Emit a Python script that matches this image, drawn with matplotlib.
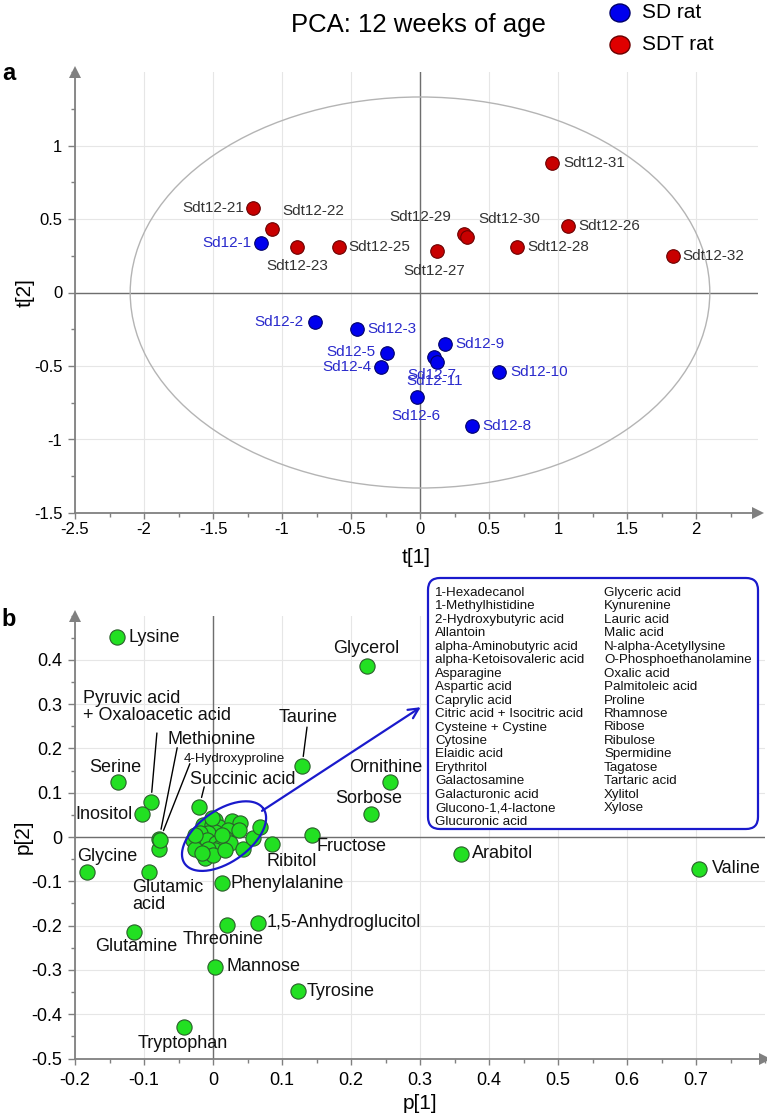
import numpy as np
import matplotlib
matplotlib.use("Agg")
import matplotlib.pyplot as plt
from matplotlib.patches import Ellipse, FancyBboxPatch
from matplotlib.transforms import IdentityTransform
from matplotlib.ticker import FixedLocator, MultipleLocator, FuncFormatter

plt.rcParams['font.family'] = ['Liberation Sans', 'DejaVu Sans']

W, H = 767, 1113

#%% score plot data (t[1], t[2])
sdt_names = ["Sdt12-21", "Sdt12-22", "Sdt12-23", "Sdt12-25", "Sdt12-26", "Sdt12-27",
             "Sdt12-28", "Sdt12-29", "Sdt12-30", "Sdt12-31", "Sdt12-32"]
sdt_t1 = [-1.21, -1.07, -0.89, -0.59, 1.07, 0.12, 0.70, 0.32, 0.34, 0.96, 1.83]
sdt_t2 = [0.576, 0.43, 0.31, 0.31, 0.45, 0.28, 0.31, 0.40, 0.38, 0.88, 0.25]

sd_names = ["Sd12-1", "Sd12-2", "Sd12-3", "Sd12-4", "Sd12-5", "Sd12-6",
            "Sd12-7", "Sd12-8", "Sd12-9", "Sd12-10", "Sd12-11"]
sd_t1 = [-1.15, -0.76, -0.46, -0.28, -0.24, -0.02, 0.10, 0.38, 0.18, 0.57, 0.12]
sd_t2 = [0.34, -0.20, -0.25, -0.51, -0.41, -0.71, -0.44, -0.91, -0.35, -0.54, -0.47]

#%% loading plot data (p[1], p[2])
met_names = ["Lysine", "Glycerol", "Taurine", "Serine", "Ornithine", "Sorbose",
             "Pyruvic acid\n+ Oxaloacetic acid", "Inositol", "Succinic acid",
             "Methionine", "4-Hydroxyproline", "Fructose", "Ribitol", "Glycine",
             "Glutamic\nacid", "Phenylalanine", "1,5-Anhydroglucitol", "Threonine",
             "Glutamine", "Mannose", "Tyrosine", "Tryptophan", "Arabitol", "Valine"]
met_p1 = [-0.139, 0.223, 0.129, -0.138, 0.257, 0.229, -0.090, -0.103, -0.020,
          -0.078, -0.077, 0.143, 0.086, -0.183, -0.093, 0.013, 0.065, 0.020,
          -0.114, 0.003, 0.123, -0.042, 0.359, 0.704]
met_p2 = [0.451, 0.386, 0.160, 0.124, 0.124, 0.052, 0.079, 0.052, 0.068,
          -0.004, -0.006, 0.005, -0.016, -0.079, -0.079, -0.104, -0.194, -0.199,
          -0.214, -0.293, -0.348, -0.429, -0.038, -0.072]

# unlabelled loadings in the circled cluster
cluster_p1 = [-0.014, 0.003, -0.002, 0.008, 0.027, 0.039, 0.022, 0.003, -0.007, -0.019,
              -0.029, -0.019, -0.009, 0.005, 0.017, 0.025, 0.010, 0.003, -0.007, -0.026,
              -0.012, 0.000, 0.017, 0.044, 0.058, 0.068, 0.037, 0.013, -0.026, -0.016,
              -0.002, -0.078]
cluster_p2 = [0.027, 0.038, 0.027, 0.023, 0.035, 0.031, 0.016, 0.012, 0.008, 0.008,
              -0.007, -0.011, -0.007, -0.014, -0.003, -0.014, -0.022, -0.029, -0.026, -0.026,
              -0.048, -0.041, -0.029, -0.028, -0.003, 0.023, 0.016, 0.005, 0.005, -0.037,
              0.042, -0.027]

box_col1 = ["1-Hexadecanol", "1-Methylhistidine", "2-Hydroxybutyric acid", "Allantoin",
            "alpha-Aminobutyric acid", "alpha-Ketoisovaleric acid", "Asparagine",
            "Aspartic acid", "Caprylic acid", "Citric acid + Isocitric acid",
            "Cysteine + Cystine", "Cytosine", "Elaidic acid", "Erythritol",
            "Galactosamine", "Galacturonic acid", "Glucono-1,4-lactone", "Glucuronic acid"]
box_col2 = ["Glyceric acid", "Kynurenine", "Lauric acid", "Malic acid",
            "N-alpha-Acetyllysine", "O-Phosphoethanolamine", "Oxalic acid",
            "Palmitoleic acid", "Proline", "Rhamnose", "Ribose", "Ribulose",
            "Spermidine", "Tagatose", "Tartaric acid", "Xylitol", "Xylose"]

#%% label placement (pixel offsets from the point, horizontal alignment)
score_lab = {
    "Sdt12-21": (-9, 0, "right"), "Sdt12-22": (41, 18, "center"),
    "Sdt12-23": (0, -19, "center"), "Sdt12-25": (10, 0, "left"),
    "Sdt12-26": (11, 0, "left"), "Sdt12-27": (-2, -20, "center"),
    "Sdt12-28": (11, 0, "left"), "Sdt12-29": (-44, 17, "center"),
    "Sdt12-30": (42, 18, "center"), "Sdt12-31": (11, 0, "left"),
    "Sdt12-32": (10, 0, "left"),
    "Sd12-1": (-10, 0, "right"), "Sd12-2": (-12, 0, "right"),
    "Sd12-3": (11, 0, "left"), "Sd12-4": (-10, 0, "right"),
    "Sd12-5": (-11, 1, "right"), "Sd12-6": (-1, -19, "center"),
    "Sd12-7": (-2, -18, "center"), "Sd12-8": (10, 0, "left"),
    "Sd12-9": (11, 0, "left"), "Sd12-10": (12, 0, "left"),
    "Sd12-11": (-2, -19, "center"),
}
load_lab = {
    "Lysine": (11, 0, "left"), "Glycerol": (-1, 18, "center"),
    "Taurine": (6, 49, "center"), "Serine": (-3, 15, "center"),
    "Ornithine": (-41, 15, "left"), "Sorbose": (-2, 15, "center"),
    "Pyruvic acid\n+ Oxaloacetic acid": (-68, 95, "left"),
    "Inositol": (-9, -1, "right"), "Succinic acid": (-9, 27, "left"),
    "Methionine": (8, 99, "left"), "4-Hydroxyproline": (24, 81, "left"),
    "Fructose": (5, -12, "left"), "Ribitol": (-6, -17, "left"),
    "Glycine": (-10, 15, "left"), "Glutamic\nacid": (-17, -24, "left"),
    "Phenylalanine": (9, 0, "left"), "1,5-Anhydroglucitol": (9, 0, "left"),
    "Threonine": (-4, -14, "center"), "Glutamine": (2, -15, "center"),
    "Mannose": (11, 0, "left"), "Tyrosine": (9, 0, "left"),
    "Tryptophan": (-1, -16, "center"), "Arabitol": (11, 0, "left"),
    "Valine": (13, 0, "left"),
}
leaders = {"Pyruvic acid\n+ Oxaloacetic acid": (6, 69), "Methionine": (18, 91),
           "4-Hydroxyproline": (30, 76), "Succinic acid": (5, 20), "Taurine": (5, 39)}

AX_GRAY = "#808080"
fmt = FuncFormatter(lambda v, p: "0" if abs(v) < 1e-9 else f"{v:g}")

fig = plt.figure(figsize=(W / 100, H / 100), dpi=100)


def style_axes(ax, fs):
    for s in ("top", "right"):
        ax.spines[s].set_visible(False)
    for s in ("left", "bottom"):
        ax.spines[s].set_color(AX_GRAY)
        ax.spines[s].set_linewidth(1.3)
    ax.grid(True, which="major", color="#e6e6e6", lw=0.8)
    ax.set_axisbelow(True)
    ax.axhline(0, color="#6e6e6e", lw=1.0, zorder=1.5)
    ax.axvline(0, color="#6e6e6e", lw=1.0, zorder=1.5)
    ax.tick_params(which="both", direction="out", color=AX_GRAY, width=1, labelsize=fs)
    ax.tick_params(which="major", length=4)
    ax.tick_params(which="minor", length=3)
    ax.tick_params(axis="y", which="major", length=5, pad=4)
    ax.xaxis.set_major_formatter(fmt)
    ax.yaxis.set_major_formatter(fmt)
    ax.plot(0, 1, "^", transform=ax.transAxes, clip_on=False, color=AX_GRAY,
            ms=8, mew=0, zorder=5)
    ax.plot(1, 0, ">", transform=ax.transAxes, clip_on=False, color=AX_GRAY,
            ms=8, mew=0, zorder=5)


#%% panel a
ax1 = fig.add_axes([75 / W, 1 - 513 / H, 4.95 * 138 / W, 441 / H])
ax1.set_xlim(-2.5, 2.45)
ax1.set_ylim(-1.5, 1.5)
ax1.xaxis.set_major_locator(FixedLocator(np.arange(-2.5, 2.01, 0.5)))
ax1.xaxis.set_minor_locator(MultipleLocator(0.25))
ax1.yaxis.set_major_locator(FixedLocator(np.arange(-1.5, 1.01, 0.5)))
ax1.yaxis.set_minor_locator(MultipleLocator(0.25))
style_axes(ax1, 12)
ax1.tick_params(axis="x", pad=2.5)

ax1.add_patch(Ellipse((0, 0), 2 * 2.1, 2 * 1.33, fill=False, ec="#b4b4b4", lw=1.0, zorder=2))

ax1.scatter(sdt_t1, sdt_t2, s=95, c="#c80000", edgecolors="#6a0000", lw=0.8, zorder=4)
ax1.scatter(sd_t1, sd_t2, s=95, c="#0000ee", edgecolors="#00006a", lw=0.8, zorder=4)
for names, xs, ys, col in ((sdt_names, sdt_t1, sdt_t2, "#333333"),
                           (sd_names, sd_t1, sd_t2, "#2a2acc")):
    for n, x, y in zip(names, xs, ys):
        dx, dy, ha = score_lab[n]
        ax1.annotate(n, (x, y), xytext=(dx, dy), textcoords="offset pixels",
                     ha=ha, va="center", fontsize=11, color=col, zorder=6)

ax1.set_xlabel("t[1]", fontsize=15, labelpad=8)
ax1.set_ylabel("t[2]", fontsize=15, labelpad=-0.5)

#%% panel b
ax2 = fig.add_axes([75 / W, 1 - 1058.5 / H, 690 / W, 443 / H])
ax2.set_xlim(-0.2, 0.8)
ax2.set_ylim(-0.5, 0.5)
ax2.xaxis.set_major_locator(FixedLocator(np.round(np.arange(-0.2, 0.71, 0.1), 2)))
ax2.xaxis.set_minor_locator(MultipleLocator(0.05))
ax2.yaxis.set_major_locator(FixedLocator(np.round(np.arange(-0.5, 0.41, 0.1), 2)))
ax2.yaxis.set_minor_locator(MultipleLocator(0.05))
style_axes(ax2, 13)
ax2.tick_params(axis="x", pad=6)

ax2.scatter(cluster_p1, cluster_p2, s=120, c="#22e022", edgecolors="#2b5e2b", lw=0.8, zorder=4)
ax2.scatter(met_p1, met_p2, s=120, c="#22e022", edgecolors="#2b5e2b", lw=0.8, zorder=4)
for n, x, y in zip(met_names, met_p1, met_p2):
    dx, dy, ha = load_lab[n]
    fs = 9.6 if n == "4-Hydroxyproline" else 13
    ax2.annotate(n, (x, y), xytext=(dx, dy), textcoords="offset pixels",
                 ha=ha, va="center", fontsize=fs, color="#111111", zorder=6,
                 linespacing=1.0)
    if n in leaders:
        ax2.annotate("", (x, y), xytext=leaders[n], textcoords="offset pixels",
                     arrowprops=dict(arrowstyle="-", color="black", lw=1.0,
                                     shrinkA=0, shrinkB=7), zorder=5)

# ellipse round the crowded loadings, drawn in pixel space
cx, cy, a_px, b_px, ang = 0.016, 0.002, 48, 26, np.radians(35)
th = np.linspace(0, 2 * np.pi, 200)
ex = cx + (a_px * np.cos(th) * np.cos(ang) - b_px * np.sin(th) * np.sin(ang)) / 690
ey = cy + (a_px * np.cos(th) * np.sin(ang) + b_px * np.sin(th) * np.cos(ang)) / 443
ax2.plot(ex, ey, color="#1a1acc", lw=1.6, zorder=5)
ax2.annotate("", xy=(0.301, 0.293), xytext=(0.071, 0.059),
             arrowprops=dict(arrowstyle="->", color="#1a1acc", lw=1.6,
                             mutation_scale=18, shrinkA=0, shrinkB=0), zorder=5)

ax2.set_xlabel("p[1]", fontsize=15, labelpad=3)
ax2.set_ylabel("p[2]", fontsize=15, labelpad=-0.5)

# box listing the circled metabolites
box = FancyBboxPatch((428, H - 829), 330, 251, boxstyle="round,pad=0,rounding_size=12",
                     transform=IdentityTransform(), fc="white", ec="#1a1acc", lw=1.6,
                     zorder=10)
fig.add_artist(box)
for col, x0 in ((box_col1, 435), (box_col2, 604)):
    for i, n in enumerate(col):
        fig.text(x0 / W, 1 - (593 + i * 13.45) / H, n, fontsize=9.6, va="center",
                 ha="left", color="#111111", zorder=11)

#%% title, legend, panel letters
fig.text(418 / W, 1 - 25 / H, "PCA: 12 weeks of age", fontsize=18.5, ha="center", va="center")
for y, fc, ec, lab in ((13, "#0000ee", "#00006a", "SD rat"), (45, "#e00000", "#6a0000", "SDT rat")):
    fig.add_artist(Ellipse((620, H - y), 20, 18, transform=IdentityTransform(),
                           fc=fc, ec=ec, lw=1.0))
    fig.text(642 / W, 1 - y / H, lab, fontsize=15, ha="left", va="center")
fig.text(9 / W, 1 - 73 / H, "a", fontsize=17, fontweight="bold", ha="center", va="center")
fig.text(9 / W, 1 - 620 / H, "b", fontsize=17, fontweight="bold", ha="center", va="center")

fig.savefig("out.png", dpi=100)
